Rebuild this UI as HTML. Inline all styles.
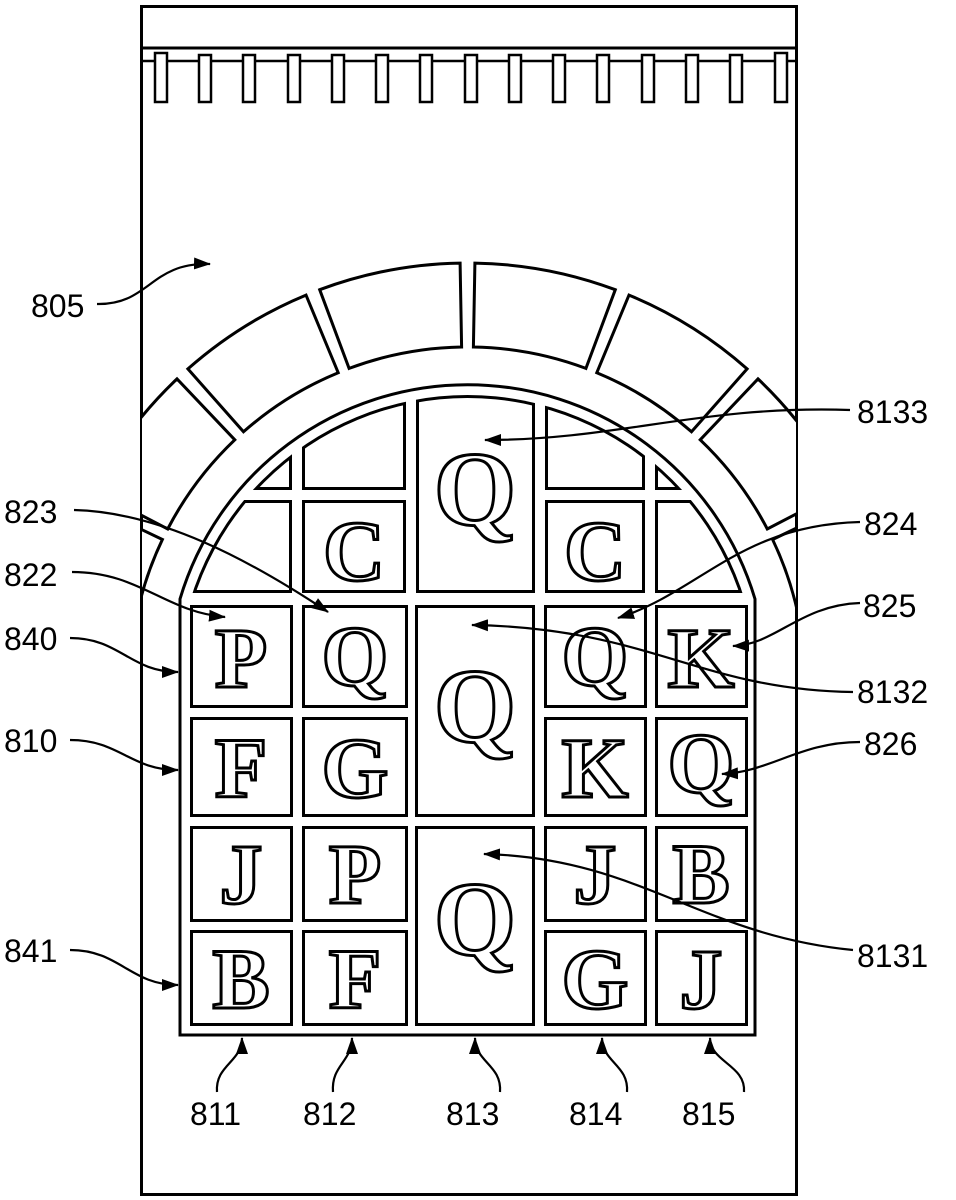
<!DOCTYPE html>
<html><head><meta charset="utf-8"><style>
html,body{margin:0;padding:0;background:#fff;}
svg{display:block;}
.lb{font-family:"Liberation Sans",sans-serif;font-size:32px;fill:#000;}
.lt{font-family:"Liberation Serif",serif;font-weight:bold;fill:#fff;stroke:#000;stroke-width:3;text-anchor:middle;}
</style></head><body>
<svg width="956" height="1200" viewBox="0 0 956 1200" xmlns="http://www.w3.org/2000/svg">
<defs>
<marker id="ar" markerWidth="17" markerHeight="12" refX="16" refY="6" orient="auto" markerUnits="userSpaceOnUse" viewBox="0 0 17 12">
<path d="M0,0 L17,6 L0,12 Z" fill="#000"/></marker>
<clipPath id="box"><rect x="142" y="7" width="654" height="1187"/></clipPath>
<clipPath id="c290"><circle cx="467.5" cy="685" r="290"/></clipPath>
<clipPath id="c287"><circle cx="467.5" cy="685" r="287"/></clipPath>
</defs>
<rect x="0" y="0" width="956" height="1200" fill="#fff"/>
<rect x="141.5" y="6.5" width="655" height="1188" fill="none" stroke="#000" stroke-width="3"/>
<line x1="141" y1="48" x2="797" y2="48" stroke="#000" stroke-width="3"/>
<line x1="141" y1="61" x2="797" y2="61" stroke="#000" stroke-width="2.5"/>
<g fill="#fff" stroke="#000" stroke-width="2.5">
<rect x="155" y="53" width="12" height="49"/><rect x="199" y="55" width="12" height="47"/>
<rect x="243" y="55" width="12" height="47"/><rect x="288" y="55" width="12" height="47"/>
<rect x="332" y="55" width="12" height="47"/><rect x="376" y="55" width="12" height="47"/>
<rect x="420" y="55" width="12" height="47"/><rect x="465" y="55" width="12" height="47"/>
<rect x="509" y="55" width="12" height="47"/><rect x="553" y="55" width="12" height="47"/>
<rect x="597" y="55" width="12" height="47"/><rect x="642" y="55" width="12" height="47"/>
<rect x="686" y="55" width="12" height="47"/><rect x="730" y="55" width="12" height="47"/>
<rect x="775" y="53" width="12" height="49"/>
</g>
<g clip-path="url(#box)" fill="#fff" stroke="#000" stroke-width="3" stroke-linejoin="miter">
<path d="M473.4,347 L474.9,263.1 A422,422 0 0 1 615.3,289.7 L585.9,368.4 A338,338 0 0 0 473.4,347 Z"/>
<path d="M596.8,372.7 L629,295.1 A422,422 0 0 1 747.1,368.9 L691.5,431.8 A338,338 0 0 0 596.8,372.7 Z"/>
<path d="M700.2,439.8 L758,378.9 A422,422 0 0 1 841.8,490.2 L767.3,529 A338,338 0 0 0 700.2,439.8 Z"/>
<path d="M772.6,539.5 L848.4,503.3 A422,422 0 0 1 883.1,758.3 L800.4,743.7 A338,338 0 0 0 772.6,539.5 Z"/>
<path d="M461.6,347 L460.1,263.1 A422,422 0 0 0 319.7,289.7 L349.1,368.4 A338,338 0 0 1 461.6,347 Z"/>
<path d="M338.2,372.7 L306,295.1 A422,422 0 0 0 187.9,368.9 L243.5,431.8 A338,338 0 0 1 338.2,372.7 Z"/>
<path d="M234.8,439.8 L177,378.9 A422,422 0 0 0 93.2,490.2 L167.7,529 A338,338 0 0 1 234.8,439.8 Z"/>
<path d="M162.4,539.5 L86.6,503.3 A422,422 0 0 0 51.9,758.3 L134.6,743.7 A338,338 0 0 1 162.4,539.5 Z"/>
</g>
<path d="M180,1035 V599 A300,300 0 0 1 755,599 V1035 Z" fill="#fff" stroke="#000" stroke-width="3"/>
<g clip-path="url(#c290)" fill="#000">
<rect x="190" y="400" width="102" height="90"/><rect x="302" y="400" width="104" height="90"/>
<rect x="545" y="400" width="100" height="90"/><rect x="655" y="400" width="100" height="90"/>
<rect x="180" y="500" width="112" height="93"/><rect x="302" y="500" width="104" height="93"/>
<rect x="545" y="500" width="100" height="93"/><rect x="655" y="500" width="100" height="93"/>
<rect x="416" y="380" width="119" height="213"/>
</g>
<g clip-path="url(#c287)" fill="#fff">
<rect x="193" y="403" width="96" height="84"/><rect x="305" y="403" width="98" height="84"/>
<rect x="548" y="403" width="94" height="84"/><rect x="658" y="403" width="94" height="84"/>
<rect x="183" y="503" width="106" height="87"/><rect x="305" y="503" width="98" height="87"/>
<rect x="548" y="503" width="94" height="87"/><rect x="658" y="503" width="94" height="87"/>
<rect x="419" y="380" width="113" height="210"/>
</g>
<g fill="#fff" stroke="#000" stroke-width="3">
<rect x="191.5" y="606.5" width="100" height="100"/><rect x="303.5" y="606.5" width="103" height="100"/>
<rect x="416.5" y="606.5" width="117" height="209"/><rect x="545.5" y="606.5" width="100" height="100"/>
<rect x="656.5" y="606.5" width="90" height="100"/>
<rect x="191.5" y="718.5" width="100" height="97"/><rect x="303.5" y="718.5" width="103" height="97"/>
<rect x="545.5" y="718.5" width="100" height="97"/><rect x="656.5" y="718.5" width="90" height="97"/>
<rect x="191.5" y="827.5" width="100" height="93"/><rect x="303.5" y="827.5" width="103" height="93"/>
<rect x="416.5" y="827.5" width="117" height="197"/><rect x="545.5" y="827.5" width="100" height="93"/>
<rect x="656.5" y="827.5" width="90" height="93"/>
<rect x="191.5" y="931.5" width="100" height="93"/><rect x="303.5" y="931.5" width="103" height="93"/>
<rect x="545.5" y="931.5" width="100" height="93"/><rect x="656.5" y="931.5" width="90" height="93"/>
</g>
<g class="lt" font-size="86">
<text x="354" y="580">C</text><text x="595" y="580">C</text>
<text x="241" y="687">P</text><text x="355" y="685">Q</text><text x="595" y="685">Q</text><text x="701" y="687">K</text>
<text x="241" y="797">F</text><text x="355" y="797">G</text><text x="595" y="797">K</text><text x="701" y="792">Q</text>
<text x="241" y="903">J</text><text x="355" y="903">P</text><text x="595" y="903">J</text><text x="701" y="903">B</text>
<text x="241" y="1008">B</text><text x="355" y="1008">F</text><text x="595" y="1008">G</text><text x="701" y="1008">J</text>
</g>
<g class="lt" font-size="106">
<text x="475" y="525">Q</text><text x="475" y="742">Q</text><text x="475" y="955">Q</text>
</g>
<g fill="none" stroke="#000" stroke-width="2.2" marker-end="url(#ar)">
<path d="M97,304 C150,305 150,262 210,264"/>
<path d="M850,410 C700,405 620,440 485,440"/>
<path d="M74,510 C160,512 250,560 328,612"/>
<path d="M72,572 C140,572 165,612 225,617"/>
<path d="M70,638 C120,638 130,672 178,672"/>
<path d="M70,740 C120,740 130,770 178,770"/>
<path d="M70,950 C120,950 130,985 178,985"/>
<path d="M860,522 C740,525 700,592 618,618"/>
<path d="M860,603 C800,605 775,645 733,646"/>
<path d="M853,692 C700,690 650,628 472,625"/>
<path d="M860,742 C800,742 770,772 722,774"/>
<path d="M853,950 C700,935 640,858 484,854"/>
<path d="M217,1092 C215,1065 242,1062 242,1038"/>
<path d="M333,1092 C331,1065 352,1062 352,1038"/>
<path d="M500,1092 C502,1065 475,1062 475,1038"/>
<path d="M627,1092 C629,1065 602,1062 602,1038"/>
<path d="M744,1092 C746,1065 710,1062 710,1038"/>
</g>
<g class="lb">
<text x="31" y="317">805</text>
<text x="857" y="423">8133</text>
<text x="4" y="523">823</text>
<text x="864" y="535">824</text>
<text x="4" y="586">822</text>
<text x="863" y="617">825</text>
<text x="4" y="650">840</text>
<text x="857" y="703">8132</text>
<text x="4" y="752">810</text>
<text x="864" y="755">826</text>
<text x="4" y="962">841</text>
<text x="857" y="967">8131</text>
<text x="190" y="1125">811</text>
<text x="303" y="1125">812</text>
<text x="446" y="1125">813</text>
<text x="569" y="1125">814</text>
<text x="682" y="1125">815</text>
</g>
</svg>
</body></html>
